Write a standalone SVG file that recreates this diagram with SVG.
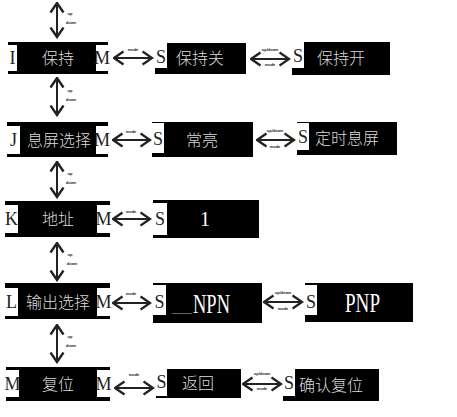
<svg xmlns="http://www.w3.org/2000/svg" width="457" height="417" viewBox="0 0 457 417">
<style>
.blk{fill:#000}
.wht{fill:#fff}
.let{font-family:"Liberation Serif",serif;font-size:18px;fill:#222;text-anchor:middle}
.cn{font-family:"Noto Sans CJK SC","Noto Sans",sans-serif;font-size:16px;fill:#dcdcdc;text-anchor:middle;font-weight:300}
.ser{font-family:"Liberation Serif",serif;fill:#fff}
.mid{text-anchor:middle}
.lbl{font-family:"Liberation Sans",sans-serif;font-size:4px;fill:#223;text-anchor:middle;font-weight:bold}
.arr{stroke:#222;stroke-width:2;fill:none;marker-start:url(#ah);marker-end:url(#ah)}
</style>
<defs>
<marker id="ah" markerUnits="userSpaceOnUse" markerWidth="12" markerHeight="16" viewBox="0 0 12 16" refX="10.5" refY="8" orient="auto-start-reverse">
<path d="M1,1.5 L10.5,8 L1,14.5" fill="none" stroke="#222" stroke-width="2.4"/>
</marker>
</defs>
<rect width="457" height="417" fill="#fff"/>

<g id="connectors">
<line class="arr" x1="57" y1="3" x2="57" y2="37"/>
<text class="lbl" x="70" y="15">up</text><text class="lbl" x="71" y="24">down</text>
<line class="arr" x1="57" y1="78" x2="57" y2="115"/>
<text class="lbl" x="70" y="92">up</text><text class="lbl" x="71" y="101">down</text>
<line class="arr" x1="57" y1="162" x2="57" y2="197"/>
<text class="lbl" x="70" y="175">up</text><text class="lbl" x="71" y="184">down</text>
<line class="arr" x1="57" y1="243" x2="57" y2="280"/>
<text class="lbl" x="70" y="256">up</text><text class="lbl" x="72" y="265">down</text>
<line class="arr" x1="57" y1="325" x2="57" y2="362"/>
<text class="lbl" x="70" y="338">up</text><text class="lbl" x="71" y="347">down</text>

<line class="arr" x1="114" y1="58" x2="152" y2="58"/>
<text class="lbl" x="133" y="51">mode</text>
<line class="arr" x1="251" y1="59" x2="289" y2="59"/>
<text class="lbl" x="270" y="51">up/down</text><text class="lbl" x="270" y="66">mode</text>

<line class="arr" x1="113" y1="140" x2="150" y2="140"/>
<text class="lbl" x="131" y="133">mode</text>
<line class="arr" x1="257" y1="140" x2="294" y2="140"/>
<text class="lbl" x="275" y="132">up/down</text><text class="lbl" x="275" y="148">mode</text>

<line class="arr" x1="113" y1="219" x2="150" y2="219"/>
<text class="lbl" x="131" y="213">mode</text>

<line class="arr" x1="113" y1="303" x2="150" y2="303"/>
<text class="lbl" x="131" y="295">mode</text>
<line class="arr" x1="264" y1="302" x2="302" y2="302"/>
<text class="lbl" x="283" y="294">up/down</text><text class="lbl" x="283" y="310">mode</text>

<line class="arr" x1="115" y1="388" x2="153" y2="388"/>
<text class="lbl" x="134" y="376">mode</text>
<line class="arr" x1="243" y1="384" x2="281" y2="384"/>
<text class="lbl" x="262" y="375">up/down</text><text class="lbl" x="262" y="390">mode</text>
</g>

<g id="n-hold">
<rect class="blk" x="8" y="42" width="100" height="32"/>
<rect class="wht" x="8" y="45" width="9" height="26"/>
<rect class="wht" x="96" y="45" width="12" height="26"/>
<text class="let" x="12.5" y="64">I</text>
<text class="cn" x="58" y="64">保持</text>
<text class="let" x="102" y="64">M</text>
</g>
<g id="n-hold-off">
<rect class="blk" x="155" y="43" width="91" height="31"/>
<rect class="wht" x="155" y="43" width="12" height="25"/>
<text class="let" x="161" y="63">S</text>
<text class="cn" x="200" y="64">保持关</text>
</g>
<g id="n-hold-on">
<rect class="blk" x="292" y="42" width="98" height="33"/>
<rect class="wht" x="292" y="42" width="12" height="26"/>
<text class="let" x="298" y="62">S</text>
<text class="cn" x="341" y="64">保持开</text>
</g>

<g id="n-screen">
<rect class="blk" x="7" y="122" width="101" height="35"/>
<rect class="wht" x="7" y="126" width="13" height="28"/>
<rect class="wht" x="96" y="126" width="12" height="28"/>
<text class="let" x="13.5" y="146">J</text>
<text class="cn" x="59" y="146">息屏选择</text>
<text class="let" x="102" y="146">M</text>
</g>
<g id="n-always">
<rect class="blk" x="152" y="122" width="101" height="35"/>
<rect class="wht" x="152" y="123" width="12" height="30"/>
<text class="let" x="158" y="145">S</text>
<text class="cn" x="202" y="146">常亮</text>
</g>
<g id="n-timed">
<rect class="blk" x="297" y="122" width="100" height="33"/>
<rect class="wht" x="297" y="123" width="12" height="27"/>
<text class="let" x="303" y="143">S</text>
<text class="cn" x="347" y="144">定时息屏</text>
</g>

<g id="n-addr">
<rect class="blk" x="5" y="201" width="105" height="36"/>
<rect class="wht" x="5" y="205" width="13" height="28"/>
<rect class="wht" x="97" y="205" width="13" height="28"/>
<text class="let" x="11.5" y="225">K</text>
<text class="cn" x="58" y="225">地址</text>
<text class="let" x="103.5" y="225">M</text>
</g>
<g id="n-addr-val">
<rect class="blk" x="153" y="200" width="106" height="38"/>
<rect class="wht" x="153" y="203" width="14" height="32"/>
<text class="let" x="160" y="225">S</text>
<text class="ser mid" x="205" y="226" font-size="20">1</text>
</g>

<g id="n-output">
<rect class="blk" x="5" y="283" width="105" height="36"/>
<rect class="wht" x="5" y="288" width="13" height="28"/>
<rect class="wht" x="97" y="288" width="13" height="28"/>
<text class="let" x="11.5" y="308">L</text>
<text class="cn" x="58" y="308">输出选择</text>
<text class="let" x="103.5" y="308">M</text>
</g>
<g id="n-npn">
<rect class="blk" x="153" y="283" width="109" height="40"/>
<rect class="wht" x="153" y="285" width="13" height="30"/>
<text class="let" x="159.5" y="308" font-size="20">S</text>
<line x1="172" y1="313.5" x2="192" y2="313.5" stroke="#666" stroke-width="1"/>
<text class="ser" x="193" y="313" font-size="27" textLength="37" lengthAdjust="spacingAndGlyphs">NPN</text>
</g>
<g id="n-pnp">
<rect class="blk" x="305" y="283" width="108" height="39"/>
<rect class="wht" x="305" y="285" width="12" height="30"/>
<text class="let" x="311" y="308" font-size="20">S</text>
<text class="ser" x="345" y="312" font-size="27" textLength="35" lengthAdjust="spacingAndGlyphs">PNP</text>
</g>

<g id="n-reset">
<rect class="blk" x="6" y="367" width="104" height="34"/>
<rect class="wht" x="6" y="370" width="13" height="27"/>
<rect class="wht" x="97" y="370" width="13" height="27"/>
<text class="let" x="12.5" y="390">M</text>
<text class="cn" x="58" y="390">复位</text>
<text class="let" x="103.5" y="390">M</text>
</g>
<g id="n-back">
<rect class="blk" x="156" y="369" width="85" height="29"/>
<rect class="wht" x="156" y="369" width="11" height="27"/>
<text class="let" x="161.5" y="388">S</text>
<text class="cn" x="198" y="389">返回</text>
</g>
<g id="n-confirm">
<rect class="blk" x="283" y="369" width="96" height="32"/>
<rect class="wht" x="283" y="369" width="12" height="27"/>
<text class="let" x="289" y="389">S</text>
<text class="cn" x="331" y="391">确认复位</text>
</g>
</svg>
